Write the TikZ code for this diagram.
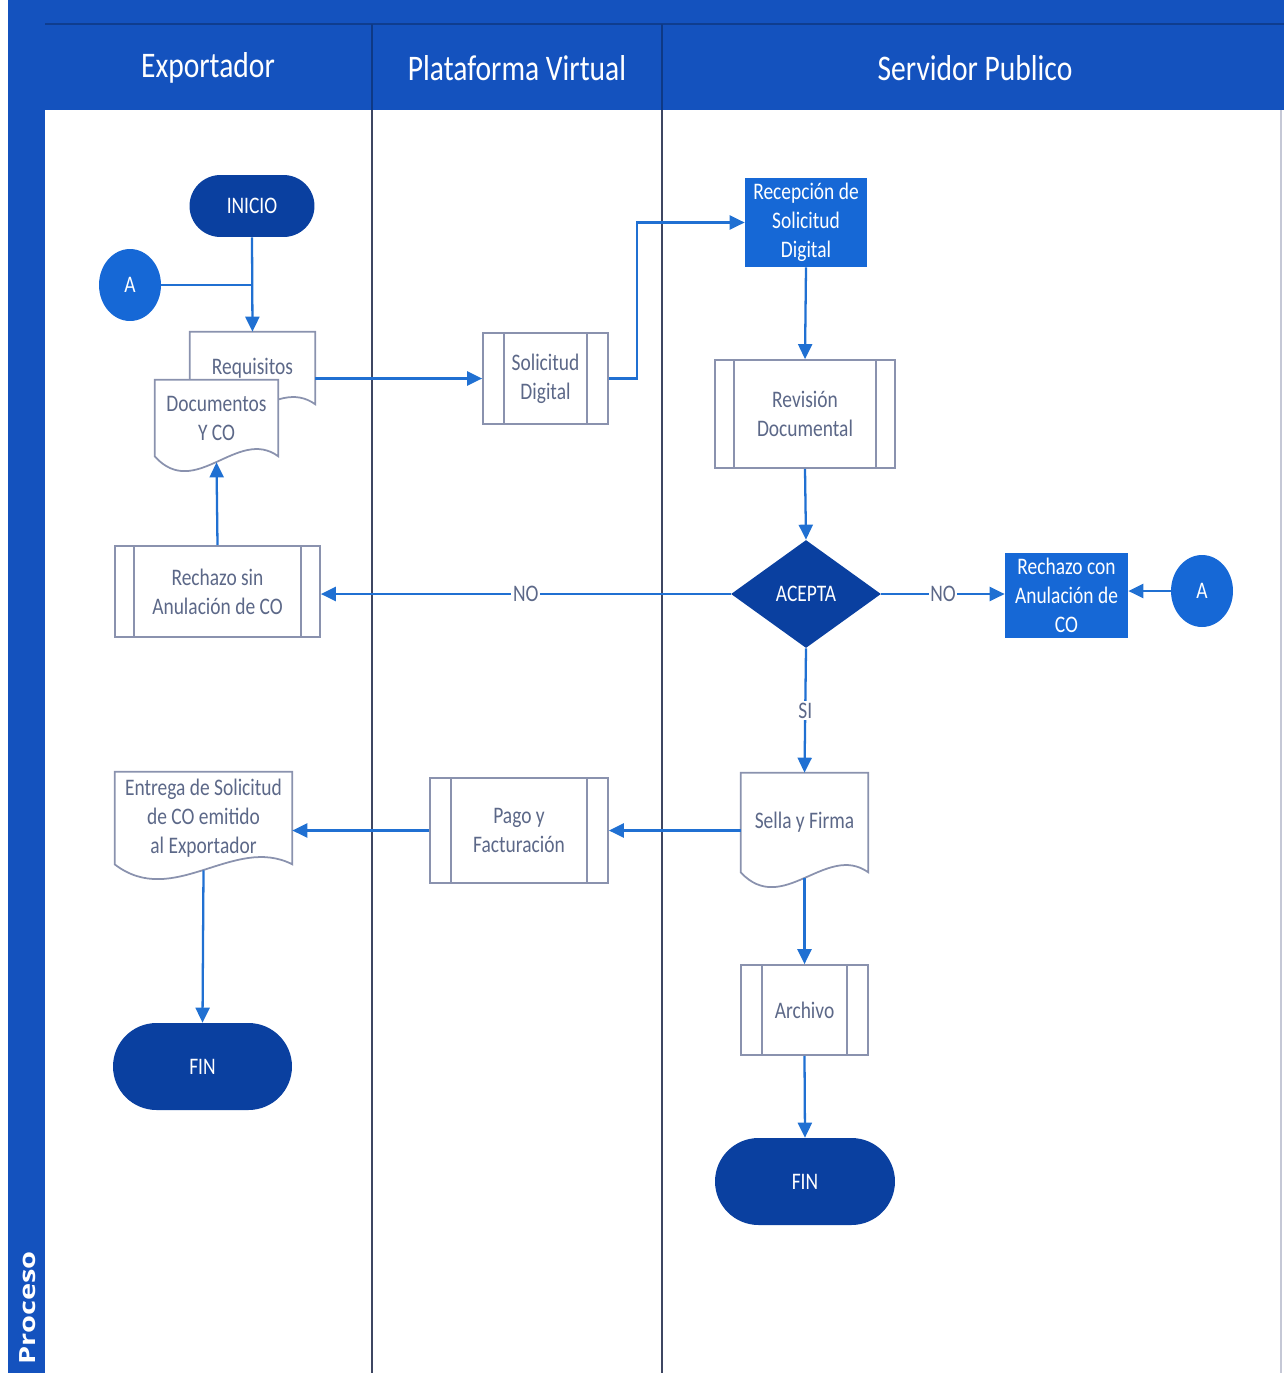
\documentclass[tikz,border=0pt]{standalone}
\usepackage{fontspec}
\setmainfont{Carlito}[FakeStretch=0.82]
\newfontfamily\procfont{Open Sans}[FakeStretch=1.3]
\usetikzlibrary{calc}
\usetikzlibrary{arrows.meta}
\usetikzlibrary{shapes.geometric,shapes.misc}
\definecolor{headblue}{RGB}{20,82,190}
\definecolor{darkblue}{RGB}{10,64,160}
\definecolor{midblue}{RGB}{22,104,214}
\definecolor{flowblue}{RGB}{32,112,210}
\definecolor{boxgray}{RGB}{138,146,174}
\definecolor{txtgray}{RGB}{92,104,136}
\definecolor{lanegray}{RGB}{62,70,98}
\pgfdeclarelayer{background}
\pgfsetlayers{background,main}

\begin{document}
\begin{tikzpicture}[x=0.02cm,y=-0.02cm,
    every node/.style={font=\fontsize{13.5}{16.5}\selectfont, align=center},
    headtxt/.style={text=white, font=\fontsize{20.5}{24}\selectfont},
    procbox/.style={draw=boxgray, line width=1pt, fill=white, text=txtgray, inner sep=0pt},
    docbox/.style={text=txtgray, inner sep=0pt},
    bluebox/.style={fill=midblue, text=white, inner sep=0pt},
    term/.style={rounded rectangle, fill=darkblue, text=white, inner sep=0pt},
    conn/.style={ellipse, fill=midblue, text=white, inner sep=0pt, minimum width=1.24cm, minimum height=1.44cm},
    decide/.style={diamond, fill=darkblue, text=white, inner sep=0pt, minimum width=3cm, minimum height=2.16cm},
    flowline/.style={draw=flowblue, line width=1.3pt},
    flow/.style={flowline, -{Triangle[length=0.3cm,width=0.28cm]}},
    lbl/.style={fill=white, text=txtgray, inner sep=1pt}
]
\useasboundingbox (0,0) rectangle (1284,1373);

\newcommand{\docshape}[1]{
    \begin{pgfonlayer}{background}
    \draw[draw=boxgray, line width=1pt, fill=white] (#1.north west) -- (#1.north east) -- (#1.south east)
        .. controls ($(#1.south east)!0.33!(#1.south west)+(0,-30)$) and ($(#1.south east)!0.67!(#1.south west)+(0,45)$) .. (#1.south west) -- cycle;
    \end{pgfonlayer}
}

\newcommand{\predef}[2]{
    \draw[draw=boxgray, line width=1pt] ($(#1.north west)+(#2,0)$) -- ($(#1.south west)+(#2,0)$)
        ($(#1.north east)+(-#2,0)$) -- ($(#1.south east)+(-#2,0)$);
}

% frame and lanes
\fill[headblue] (8,0) rectangle (1284,110);
\fill[headblue] (8,0) rectangle (45,1373);
\draw[headblue!75!black, line width=1pt] (45,24) -- (1284,24);
\draw[headblue!70!black, line width=1pt] (372,24) -- (372,110) (662,24) -- (662,110);
\draw[lanegray, line width=1pt] (372,110) -- (372,1373) (662,110) -- (662,1373);
\draw[boxgray!50, line width=0.6pt] (1281,110) -- (1281,1373);

\node[headtxt] (hexp) at (208,68) {Exportador};
\node[headtxt] (hpla) at (517,68) {Plataforma Virtual};
\node[headtxt] (hser) at (975,68) {Servidor Publico};
\node[rotate=90, text=white, font=\procfont\bfseries\fontsize{12.7}{14}\selectfont] (proc) at (28,1308) {Proceso};

% Exportador
\node[term, minimum width=2.5cm, minimum height=1.24cm] (inicio) at (252,206) {INICIO};
\node[conn] (aL) at (130,285) {A};
\node[docbox, minimum width=2.5cm, minimum height=1.44cm] (req) at (252.5,368) {Requisitos};
\node[docbox, minimum width=2.46cm, minimum height=1.52cm] (docs) at (216.5,418) {Documentos\\Y CO};
\docshape{req}
\docshape{docs}
\node[procbox, minimum width=4.1cm, minimum height=1.82cm] (rsin) at (217.5,591.5) {Rechazo sin\\Anulación de CO};
\predef{rsin}{20}
\node[docbox, minimum width=3.54cm, minimum height=1.84cm] (entrega) at (203.5,818) {Entrega de Solicitud\\de CO emitido\\al Exportador};
\docshape{entrega}
\node[term, minimum width=3.58cm, minimum height=1.74cm] (finL) at (202.5,1066.5) {FIN};

% Plataforma Virtual
\node[procbox, minimum width=2.5cm, minimum height=1.82cm] (sol) at (545.5,378.5) {Solicitud\\Digital};
\predef{sol}{22}
\node[procbox, minimum width=3.56cm, minimum height=2.1cm] (pago) at (519,830.5) {Pago y\\Facturación};
\predef{pago}{22}

% Servidor Publico
\node[bluebox, minimum width=2.44cm, minimum height=1.78cm] (rec) at (806,222.5) {Recepción de\\Solicitud\\Digital};
\node[procbox, minimum width=3.6cm, minimum height=2.16cm] (rev) at (805,414) {Revisión\\Documental};
\predef{rev}{20}
\node[decide] (acepta) at (806,594) {ACEPTA};
\node[bluebox, minimum width=2.46cm, minimum height=1.7cm] (rcon) at (1066.5,595.5) {Rechazo con\\Anulación de\\CO};
\node[conn] (aR) at (1202,591) {A};
\node[docbox, minimum width=2.54cm, minimum height=1.98cm] (sella) at (804.5,822.5) {Sella y Firma};
\docshape{sella}
\node[procbox, minimum width=2.54cm, minimum height=1.8cm] (arch) at (804.5,1010) {Archivo};
\predef{arch}{22}
\node[term, minimum width=3.6cm, minimum height=1.74cm] (finR) at (805,1181.5) {FIN};

% connectors
\draw[flow] (inicio.south) -- (req.north);
\draw[flowline] (aL.east) -- (aL.east -| inicio.south);
\draw[flow] (req.east |- sol.west) -- (sol.west);
\draw[flow] (sol.east) -- ++(28,0) |- (rec.west);
\draw[flow] (rec.south) -- (rev.north);
\draw[flow] (rev.south) -- (acepta.north);
\draw[flow] (acepta.west) -- node[lbl] {NO} (acepta.west -| rsin.east);
\draw[flow] (acepta.east) -- node[lbl] {NO} (acepta.east -| rcon.west);
\draw[flow] (aR.west) -- (aR.west -| rcon.east);
\draw[flow] (rsin.north) -- ($(docs.south)+(0,6)$);
\draw[flow] (acepta.south) -- node[lbl] {SI} (sella.north);
\draw[flow] (pago.east -| sella.west) -- (pago.east);
\draw[flow] (pago.west) -- (pago.west -| entrega.east);
\draw[flow] ($(entrega.south)+(0,6)$) -- (finL.north);
\draw[flow] ($(sella.south)+(0,6)$) -- (arch.north);
\draw[flow] (arch.south) -- (finR.north);
\end{tikzpicture}
\end{document}
